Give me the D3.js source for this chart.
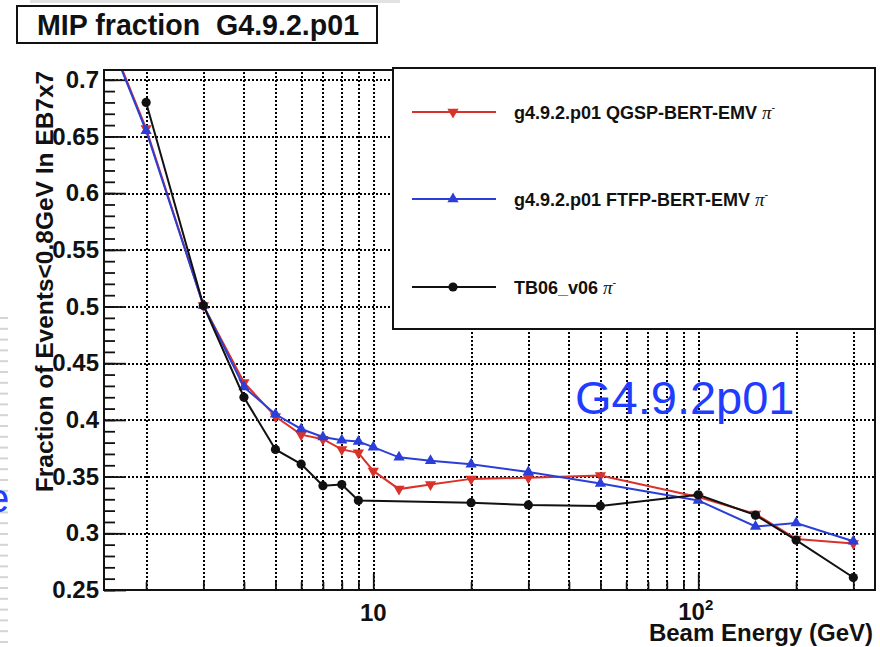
<!DOCTYPE html>
<html>
<head>
<meta charset="utf-8">
<script src="https://cdn.jsdelivr.net/npm/d3@7"></script>
<style>
  html, body { margin: 0; padding: 0; background: #fff; }
  svg { display: block; }
  text { font-family: "Liberation Sans", Arial, Helvetica, sans-serif; }
</style>
</head>
<body>
<svg id="chart" width="880" height="647"></svg>
<script>
// ---- data ----
const energiesSim = [1, 2, 3, 4, 5, 6, 7, 8, 9, 10, 12, 15, 20, 30, 50, 100, 150, 200, 300];
const qgspBertEmv = [0.870, 0.657, 0.501, 0.433, 0.403, 0.387, 0.383, 0.374, 0.371, 0.355, 0.339, 0.343, 0.348, 0.349, 0.351, 0.332, 0.317, 0.295, 0.291];
const ftfpBertEmv = [0.870, 0.655, 0.501, 0.429, 0.405, 0.392, 0.385, 0.382, 0.381, 0.376, 0.367, 0.364, 0.361, 0.354, 0.344, 0.329, 0.306, 0.309, 0.293];
const energiesData = [2, 3, 4, 5, 6, 7, 8, 9, 20, 30, 50, 100, 150, 200, 300];
const tb06v06 = [0.680, 0.501, 0.420, 0.374, 0.361, 0.342, 0.343, 0.329, 0.327, 0.325, 0.324, 0.334, 0.316, 0.294, 0.261];

const seriesNames = ["g4.9.2.p01 QGSP-BERT-EMV", "g4.9.2.p01 FTFP-BERT-EMV", "TB06_v06"];
const yMajorTicks = [0.25, 0.3, 0.35, 0.4, 0.45, 0.5, 0.55, 0.6, 0.65, 0.7];
const xMajorTicks = [10, 100];
const xMinorTicks = [2, 3, 4, 5, 6, 7, 8, 9, 20, 30, 40, 50, 60, 70, 80, 90, 200, 300];
const titleText = "MIP fraction  G4.9.2.p01";
const yTitle = "Fraction of Events<0.8GeV In EB7x7";
const xTitle = "Beam Energy (GeV)";
const watermark = "G4.9.2p01";

// ---- layout ----
const svg = d3.select("#chart");
const L = 104, R = 875, T = 70, B = 590;

const x = d3.scaleLog().domain([1.484, 349.8]).range([L, R]);
const y = d3.scaleLinear().domain([0.25, 0.7086]).range([B, T]);

const RED = "#d8322a", BLUE = "#2b3ed8", BLACK = "#111";

// faint slide artefacts at left edge and top
svg.append("line").attr("x1", 30).attr("x2", 400).attr("y1", 1.5).attr("y2", 1.5)
  .attr("stroke", "#e2e2e2").attr("stroke-width", 3);
const dashYs = d3.range(318, 646, 10.8);
svg.selectAll("line.dash").data(dashYs).join("line").attr("class", "dash")
  .attr("x1", 0).attr("x2", 8).attr("y1", d => d).attr("y2", d => d)
  .attr("stroke", "#d4d4d4").attr("stroke-width", 2);
svg.append("text").attr("x", -13).attr("y", 512).attr("font-size", 40)
  .attr("fill", "#1f3cff").text("e");

// title box
svg.append("rect").attr("x", 17).attr("y", 6).attr("width", 360).attr("height", 37)
  .attr("fill", "#fff").attr("stroke", "#111").attr("stroke-width", 2);
svg.append("text").attr("x", 37).attr("y", 35).attr("font-size", 28.6).attr("font-weight", "bold")
  .attr("fill", "#111").attr("xml:space", "preserve").text(titleText);

// plot frame background
svg.append("rect").attr("x", L).attr("y", T).attr("width", R - L).attr("height", B - T).attr("fill", "#fff");

// grid (dotted)
const gridX = svg.append("g").attr("transform", `translate(0,${B})`)
  .call(d3.axisBottom(x).tickValues(xMinorTicks.concat(xMajorTicks)).tickSize(-(B - T)).tickFormat(""));
gridX.select(".domain").remove();
gridX.selectAll("line").attr("stroke", "#000").attr("stroke-width", 2)
  .attr("stroke-dasharray", "2,2").attr("shape-rendering", "crispEdges");
const gridY = svg.append("g").attr("transform", `translate(${L},0)`)
  .call(d3.axisLeft(y).tickValues(yMajorTicks.filter(v => v > 0.25)).tickSize(-(R - L)).tickFormat(""));
gridY.select(".domain").remove();
gridY.selectAll("line").attr("stroke", "#000").attr("stroke-width", 2)
  .attr("stroke-dasharray", "2,2").attr("shape-rendering", "crispEdges");

// y axis ticks
const yMinor = d3.range(25, 71).map(v => v / 100);
const yAxMinor = svg.append("g").attr("transform", `translate(${L},0)`)
  .call(d3.axisLeft(y).tickValues(yMinor).tickSize(-11).tickFormat(""));
yAxMinor.select(".domain").remove();
yAxMinor.selectAll("line").attr("stroke", "#111").attr("stroke-width", 1.8);
const yAx = svg.append("g").attr("transform", `translate(${L},0)`)
  .call(d3.axisLeft(y).tickValues(yMajorTicks).tickSize(-22).tickPadding(5)
    .tickFormat(d => d3.format("")(+d.toFixed(2))));
yAx.select(".domain").remove();
yAx.selectAll("line").attr("stroke", "#111").attr("stroke-width", 1.8);
yAx.selectAll("text").attr("font-size", 24).attr("font-weight", "bold").attr("fill", "#111")
  .attr("font-family", "Liberation Sans, Arial, sans-serif").attr("x", -5);

// x axis ticks
const xAxMinor = svg.append("g").attr("transform", `translate(0,${B})`)
  .call(d3.axisBottom(x).tickValues(xMinorTicks).tickSize(-8).tickFormat(""));
xAxMinor.select(".domain").remove();
xAxMinor.selectAll("line").attr("stroke", "#111").attr("stroke-width", 1.8);
const xAx = svg.append("g").attr("transform", `translate(0,${B})`)
  .call(d3.axisBottom(x).tickValues(xMajorTicks).tickSize(-16).tickFormat(""));
xAx.select(".domain").remove();
xAx.selectAll("line").attr("stroke", "#111").attr("stroke-width", 1.8);
// tick labels for the log axis
const lab = svg.append("g").attr("font-size", 24).attr("font-weight", "bold").attr("fill", "#111");
lab.append("text").attr("x", x(10)).attr("y", 621).attr("text-anchor", "middle").text("10");
const t100 = lab.append("text").attr("x", x(100) - 20).attr("y", 620);
t100.append("tspan").text("10");
t100.append("tspan").attr("font-size", 15).attr("dy", -10).text("2");

// data lines + markers
svg.append("clipPath").attr("id", "plotclip")
  .append("rect").attr("x", L).attr("y", T).attr("width", R - L).attr("height", B - T);
const plot = svg.append("g").attr("clip-path", "url(#plotclip)");
const line = d3.line().x(d => x(d[0])).y(d => y(d[1]));

const series = [
  { name: seriesNames[0], xs: energiesSim, ys: qgspBertEmv, color: RED, marker: "down" },
  { name: seriesNames[1], xs: energiesSim, ys: ftfpBertEmv, color: BLUE, marker: "up" },
  { name: seriesNames[2], xs: energiesData, ys: tb06v06, color: BLACK, marker: "circle" }
];
const triUp = d3.symbol().type(d3.symbolTriangle).size(55);
function drawMarker(g, type, color, cx, cy) {
  if (type === "circle") {
    g.append("circle").attr("cx", cx).attr("cy", cy).attr("r", 4.6).attr("fill", color);
  } else {
    g.append("path").attr("d", triUp())
      .attr("transform", `translate(${cx},${cy})${type === "down" ? " rotate(180)" : ""}`)
      .attr("fill", color);
  }
}
series.forEach(s => {
  const pts = s.xs.map((e, i) => [e, s.ys[i]]);
  plot.append("path").datum(pts).attr("d", line).attr("fill", "none")
    .attr("stroke", s.color).attr("stroke-width", 2);
  pts.forEach(p => drawMarker(plot, s.marker, s.color, x(p[0]), y(p[1])));
});

// frame
svg.append("rect").attr("x", L).attr("y", T).attr("width", R - L).attr("height", B - T)
  .attr("fill", "none").attr("stroke", "#111").attr("stroke-width", 2);

// legend
svg.append("rect").attr("x", 393).attr("y", 68).attr("width", R - 393).attr("height", 261)
  .attr("fill", "#fff").attr("stroke", "#111").attr("stroke-width", 2);
const legRows = [112, 199, 287];
series.forEach((s, i) => {
  const ly = legRows[i];
  svg.append("line").attr("x1", 412).attr("x2", 496).attr("y1", ly).attr("y2", ly)
    .attr("stroke", s.color).attr("stroke-width", 2);
  drawMarker(svg, s.marker, s.color, 453, ly);
  const t = svg.append("text").attr("x", 514).attr("y", ly + 6.5).attr("font-size", 18)
    .attr("font-weight", "bold").attr("fill", "#111");
  t.append("tspan").text(s.name + " ");
  t.append("tspan").attr("font-family", "Liberation Serif, Times New Roman, serif")
    .attr("font-style", "italic").attr("font-weight", "normal").attr("font-size", 19).text("π");
  t.append("tspan").attr("font-size", 11).attr("dy", -8).attr("font-weight", "normal").text("-");
});

// watermark
svg.append("text").attr("x", 575).attr("y", 414).attr("font-size", 47).attr("fill", "#1f3cff")
  .text(watermark);

// axis titles
svg.append("text").attr("x", 873).attr("y", 641).attr("text-anchor", "end")
  .attr("font-size", 24).attr("font-weight", "bold").attr("fill", "#111").text(xTitle);
svg.append("text").attr("transform", "translate(53,281.5) rotate(-90)").attr("text-anchor", "middle")
  .attr("font-size", 24.5).attr("font-weight", "bold").attr("fill", "#111").text(yTitle);
</script>
</body>
</html>
